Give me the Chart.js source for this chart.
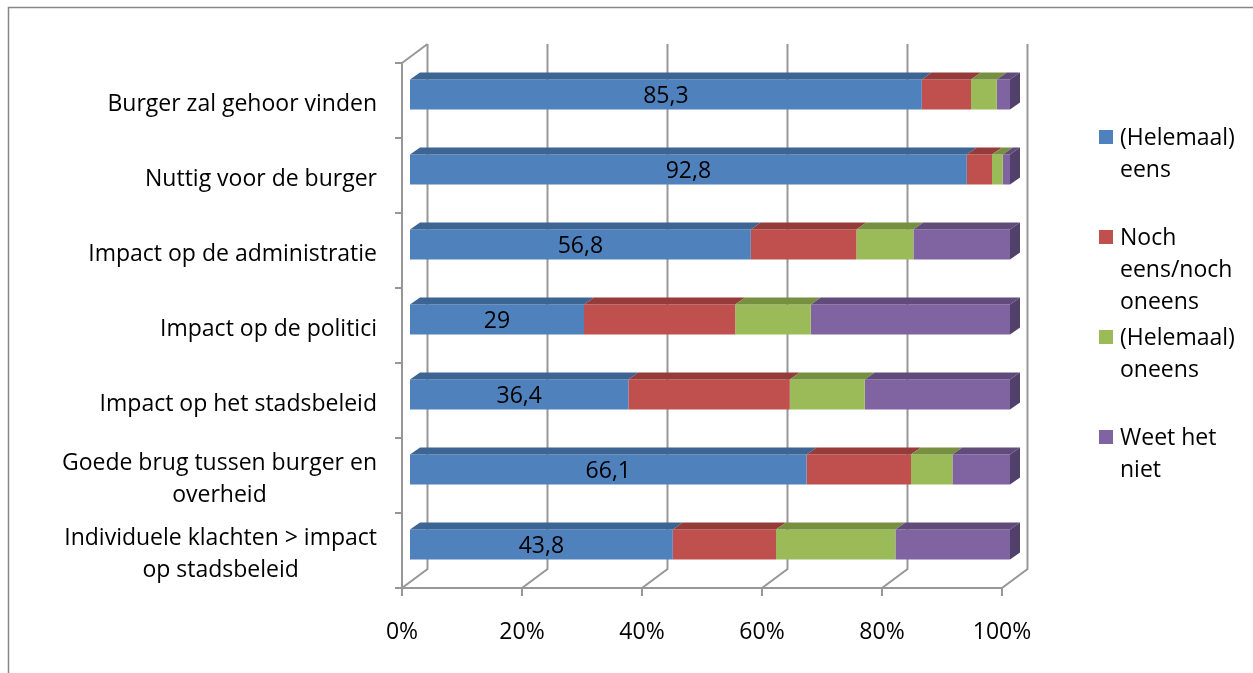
<!DOCTYPE html>
<html><head><meta charset="utf-8">
<script src="https://cdn.jsdelivr.net/npm/chart.js@4/dist/chart.umd.min.js"></script>
<style>html,body{margin:0;padding:0;background:#fff;}canvas{display:block}</style>
</head><body>
<canvas id="c" width="1253" height="673"></canvas>
<script>
const categories = [
  ["Burger zal gehoor vinden"],
  ["Nuttig voor de burger"],
  ["Impact op de administratie"],
  ["Impact op de politici"],
  ["Impact op het stadsbeleid"],
  ["Goede brug tussen burger en", "overheid"],
  ["Individuele klachten > impact", "op stadsbeleid"]
];
const seriesNames = ["(Helemaal) eens", "Noch eens/noch oneens", "(Helemaal) oneens", "Weet het niet"];
const legendLines = [["(Helemaal)", "eens"], ["Noch", "eens/noch", "oneens"], ["(Helemaal)", "oneens"], ["Weet het", "niet"]];
const eens     = [85.3, 92.8, 56.8, 29.0, 36.4, 66.1, 43.8];
const noch     = [8.2, 4.2, 17.6, 25.2, 26.9, 17.4, 17.2];
const oneens   = [4.3, 1.8, 9.5, 12.6, 12.5, 6.9, 19.9];
const weetNiet = [2.2, 1.2, 16.1, 33.2, 24.2, 9.6, 19.1];
const xTickValues = [0, 20, 40, 60, 80, 100];
const xTickLabels = ["0%", "20%", "40%", "60%", "80%", "100%"];

const frontColors = ["#4F81BD", "#C0504D", "#9BBB59", "#8064A2"];
const topColors   = ["#3C6594", "#953C3A", "#779040", "#604B7B"];
const sideColors  = ["#2F507A", "#7A302E", "#627634", "#514069"];

const FONT = "'Open Sans', sans-serif";
const FS = 23;
const GRID = "#979797";

const threeD = {
  id: 'threeD',
  beforeDatasetsDraw(chart) {
    const ctx = chart.ctx, ca = chart.chartArea, xs = chart.scales.x;
    const fdx = -8, fdy = 6;       // front plane offset
    const bdx = 17.5, bdy = -13;   // back wall offset
    ctx.save();
    // outer frame
    ctx.strokeStyle = "#878787"; ctx.lineWidth = 1.5;
    ctx.strokeRect(8.5, 7.5, 1400, 800);
    ctx.strokeStyle = GRID; ctx.lineWidth = 2;
    ctx.beginPath();
    // back wall gridlines + floor diagonals
    xTickValues.forEach(v => {
      const px = xs.getPixelForValue(v);
      ctx.moveTo(px + bdx, ca.top + bdy);
      ctx.lineTo(px + bdx, ca.bottom + bdy);
      ctx.lineTo(px + fdx, ca.bottom + fdy);
      ctx.moveTo(px + fdx, ca.bottom + fdy);
      ctx.lineTo(px + fdx, ca.bottom + fdy + 8);
    });
    // left wall front edge and top diagonal
    const lx = ca.left + fdx;
    ctx.moveTo(lx, ca.top + fdy);
    ctx.lineTo(lx, ca.bottom + fdy);
    ctx.moveTo(lx, ca.top + fdy);
    ctx.lineTo(ca.left + bdx, ca.top + bdy);
    // floor front edge
    ctx.moveTo(lx - 7, ca.bottom + fdy);
    ctx.lineTo(xs.getPixelForValue(100) + fdx, ca.bottom + fdy);
    // category ticks
    const n = categories.length, h = (ca.bottom - ca.top) / n;
    for (let k = 0; k <= n; k++) {
      const y = ca.top + fdy + k * h;
      ctx.moveTo(lx - 7, y); ctx.lineTo(lx, y);
    }
    ctx.stroke();
    ctx.restore();
  },
  afterDatasetsDraw(chart) {
    const ctx = chart.ctx;
    const dx = 10, dy = 7;
    ctx.save();
    chart.data.datasets.forEach((ds, i) => {
      const meta = chart.getDatasetMeta(i);
      meta.data.forEach((el, j) => {
        const p = el.getProps(['x', 'y', 'base', 'height'], true);
        const top = p.y - p.height / 2, bot = p.y + p.height / 2;
        const x0 = Math.min(p.base, p.x), x1 = Math.max(p.base, p.x);
        ctx.fillStyle = topColors[i];
        ctx.beginPath();
        ctx.moveTo(x0, top); ctx.lineTo(x1, top);
        ctx.lineTo(x1 + dx, top - dy); ctx.lineTo(x0 + dx, top - dy);
        ctx.closePath(); ctx.fill();
        if (i === chart.data.datasets.length - 1) {
          ctx.fillStyle = sideColors[i];
          ctx.beginPath();
          ctx.moveTo(x1, top); ctx.lineTo(x1 + dx, top - dy);
          ctx.lineTo(x1 + dx, bot - dy); ctx.lineTo(x1, bot);
          ctx.closePath(); ctx.fill();
        }
      });
    });
    // data labels on first series
    const meta0 = chart.getDatasetMeta(0);
    ctx.fillStyle = "#000"; ctx.font = FS + "px " + FONT;
    ctx.textAlign = "center"; ctx.textBaseline = "middle";
    meta0.data.forEach((el, j) => {
      const p = el.getProps(['x', 'y', 'base'], true);
      const v = chart.data.datasets[0].data[j];
      ctx.fillText(String(v).replace('.', ','), (p.x + p.base) / 2, p.y + 2);
    });
    ctx.restore();
  },
  afterDraw(chart) {
    const ctx = chart.ctx, ca = chart.chartArea, xs = chart.scales.x, ys = chart.scales.y;
    ctx.save();
    ctx.fillStyle = "#000"; ctx.font = FS + "px " + FONT; ctx.textBaseline = "middle";
    // y labels
    const lh = 32, right = ca.left - 33;
    categories.forEach((lines, i) => {
      const cy = ys.getPixelForValue(i) + 10;
      const w = Math.max(...lines.map(l => ctx.measureText(l).width));
      const cx = right - w / 2;
      ctx.textAlign = "center";
      lines.forEach((l, k) => {
        ctx.fillText(l, cx, cy + (k - (lines.length - 1) / 2) * lh);
      });
    });
    // x tick labels
    ctx.textAlign = "center";
    xTickValues.forEach((v, k) => {
      ctx.fillText(xTickLabels[k], xs.getPixelForValue(v) - 8, ca.bottom + 50);
    });
    // legend
    legendLines.forEach((lines, i) => {
      const y0 = 138 + i * 100;
      ctx.fillStyle = frontColors[i];
      ctx.fillRect(1099, y0 - 8, 14, 14);
      ctx.fillStyle = "#000"; ctx.textAlign = "left";
      lines.forEach((l, k) => ctx.fillText(l, 1120, y0 + k * 32));
    });
    ctx.restore();
  }
};

const seriesData = [eens, noch, oneens, weetNiet];
new Chart(document.getElementById('c'), {
  type: 'bar',
  data: {
    labels: categories.map(l => l.join(' ')),
    datasets: seriesData.map((d, i) => ({
      label: seriesNames[i], data: d,
      backgroundColor: frontColors[i], borderWidth: 0,
      categoryPercentage: 0.4, barPercentage: 1.0
    }))
  },
  options: {
    indexAxis: 'y',
    responsive: false, animation: false,
    layout: { padding: { left: 410, right: 243, top: 57, bottom: 91 } },
    plugins: { legend: { display: false }, tooltip: { enabled: false } },
    scales: {
      x: { stacked: true, min: 0, max: 100, display: false },
      y: { stacked: true, display: false }
    }
  },
  plugins: [threeD]
});
</script>
</body></html>
